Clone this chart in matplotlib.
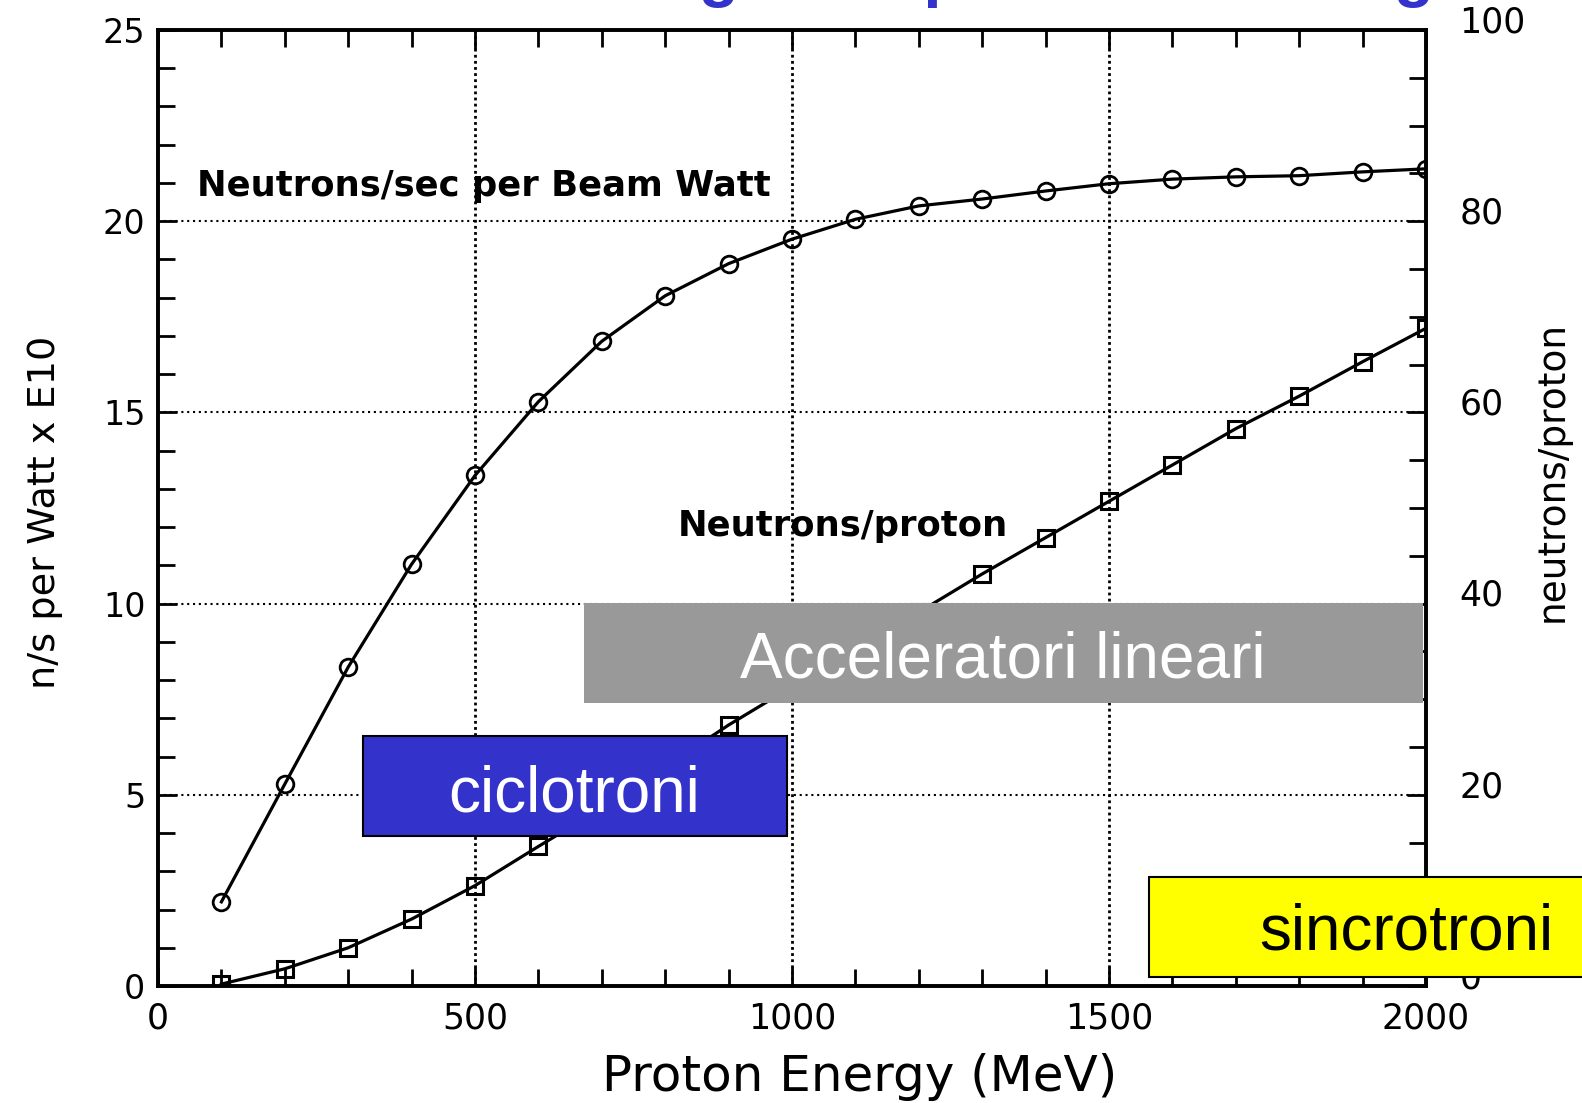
import matplotlib.pyplot as plt
from matplotlib import font_manager
from matplotlib.patches import Rectangle
from matplotlib.ticker import MultipleLocator
from matplotlib.transforms import ScaledTranslation

# Dati (energia del protone in MeV)
energia = [100, 200, 300, 400, 500, 600, 700, 800, 900, 1000,
           1100, 1200, 1300, 1400, 1500, 1600, 1700, 1800, 1900, 2000]
# neutroni/s per Watt di fascio (x 1E10), asse sinistro
n_per_watt = [2.2, 5.28, 8.34, 11.03, 13.35, 15.28, 16.86, 18.05, 18.89, 19.53,
              20.05, 20.4, 20.58, 20.79, 20.98, 21.1, 21.16, 21.19, 21.29, 21.37]
# neutroni per protone, asse destro
n_per_protone = [0.2, 1.8, 4.0, 7.0, 10.5, 14.6, 18.6, 22.9, 27.3, 31.3,
                 35.2, 39.1, 43.1, 46.9, 50.7, 54.5, 58.3, 61.7, 65.3, 68.8]

x_ticks = [0, 500, 1000, 1500, 2000]
y_ticks_sx = [0, 5, 10, 15, 20, 25]
y_ticks_dx = [0, 20, 40, 60, 80, 100]

W, H = 1582, 1103

# font "narrow" per le etichette degli assi, se disponibile
nomi_font = {f.name for f in font_manager.fontManager.ttflist}
if 'Liberation Sans Narrow' in nomi_font:
    font_lab, size_lab, size_lab2 = 'Liberation Sans Narrow', 37, 37
else:
    font_lab, size_lab, size_lab2 = 'DejaVu Sans', 27.5, 27

fig = plt.figure(figsize=(W / 100, H / 100), dpi=100)
ax = fig.add_axes([158 / W, 1 - 986 / H, (1426 - 158) / W, (986 - 30) / H])
ax2 = ax.twinx()

# curve
ax.plot(energia, n_per_watt, color='black', lw=2.3, marker='o', ms=12,
        mfc='none', mec='black', mew=2.0, zorder=3)
ax2.plot(energia, n_per_protone, color='black', lw=2.3, marker='s', ms=12,
         mfc='none', mec='black', mew=2.2, zorder=3)

ax.set_xlim(0, 2000)
ax.set_ylim(0, 25)
ax2.set_ylim(0, 100)

ax.set_xticks(x_ticks)
ax.set_yticks(y_ticks_sx)
ax2.set_yticks(y_ticks_dx)
ax.xaxis.set_minor_locator(MultipleLocator(100))
ax.yaxis.set_minor_locator(MultipleLocator(1))
ax2.yaxis.set_minor_locator(MultipleLocator(5))

ax.tick_params(axis='both', which='both', direction='in', top=True,
               width=2, colors='black')
ax.tick_params(which='major', length=14)
ax.tick_params(which='minor', length=12)
ax.tick_params(axis='x', labelsize=25, pad=11)
ax.tick_params(axis='y', labelsize=24, pad=9)
ax2.tick_params(axis='y', which='both', direction='in', width=2)
ax2.tick_params(which='major', length=14, labelsize=25, pad=24)
ax2.tick_params(which='minor', length=12)

for lab in ax.get_xticklabels() + ax.get_yticklabels() + ax2.get_yticklabels():
    lab.set_family('DejaVu Sans')
# etichette di destra leggermente spostate in alto
sposta = ScaledTranslation(0, 8 / 72, fig.dpi_scale_trans)
for lab in ax2.get_yticklabels():
    lab.set_transform(lab.get_transform() + sposta)

for a in (ax, ax2):
    for s in a.spines.values():
        s.set_linewidth(2.6)

# griglia punteggiata solo sui tick principali interni
for xv in x_ticks[1:-1]:
    ax.axvline(xv, color='black', lw=2.0, ls=(0, (1, 1.2)), zorder=1)
for yv in y_ticks_sx[1:-1]:
    ax.axhline(yv, color='black', lw=1.5, ls=(0, (1, 1.8)), zorder=1)

ax.text(62, 20.92, 'Neutrons/sec per Beam Watt', fontsize=25.5,
        family='DejaVu Sans', fontweight='bold', va='center', ha='left')
ax.text(820, 12.03, 'Neutrons/proton', fontsize=25.5,
        family='DejaVu Sans', fontweight='bold', va='center', ha='left')

# titoli degli assi
fig.text(860 / W, 1 - 1077 / H, 'Proton Energy (MeV)', fontsize=36,
         family='DejaVu Sans', ha='center', va='center')
fig.text(45 / W, 1 - 512 / H, 'n/s per Watt x E10', fontsize=size_lab,
         family=font_lab, rotation=90, ha='center', va='center')
fig.text(1553 / W, 1 - 472 / H, 'neutrons/proton', fontsize=size_lab2,
         family=font_lab, rotation=90, ha='center', va='center')

# titolo della slide (tagliato in alto, come nell'originale)
fig.text(11 / W, 1 + 4.7 / H, 'Rese di neutroni: energia dei protoni e bersaglio',
         fontsize=47, fontweight='bold', family='Liberation Sans',
         color='#3333cc', ha='left', va='baseline')

# riquadri colorati
riquadri = [
    # (x0, y0, x1, y1) in pixel, colore, bordo
    ((584, 603, 1423, 703), '#999999', None),
    ((363, 736, 787, 836), '#3333cc', 'black'),
    ((1149, 877, 1590, 977), '#ffff00', 'black'),
]
for (x0, y0, x1, y1), col, bordo in riquadri:
    r = Rectangle((x0 / W, 1 - y1 / H), (x1 - x0) / W, (y1 - y0) / H,
                  transform=fig.transFigure, facecolor=col,
                  edgecolor=bordo if bordo else 'none', lw=1.5, zorder=5)
    fig.patches.append(r)

fig.text(1003 / W, 1 - 678 / H, 'Acceleratori lineari', fontsize=46,
         family='Liberation Sans', color='white', ha='center', va='baseline', zorder=6)
fig.text(574 / W, 1 - 812 / H, 'ciclotroni', fontsize=46,
         family='Liberation Sans', color='white', ha='center', va='baseline', zorder=6)
fig.text(1553 / W, 1 - 950 / H, 'sincrotroni', fontsize=46,
         family='Liberation Sans', color='black', ha='right', va='baseline', zorder=6)

fig.savefig('out.png', dpi=100)
